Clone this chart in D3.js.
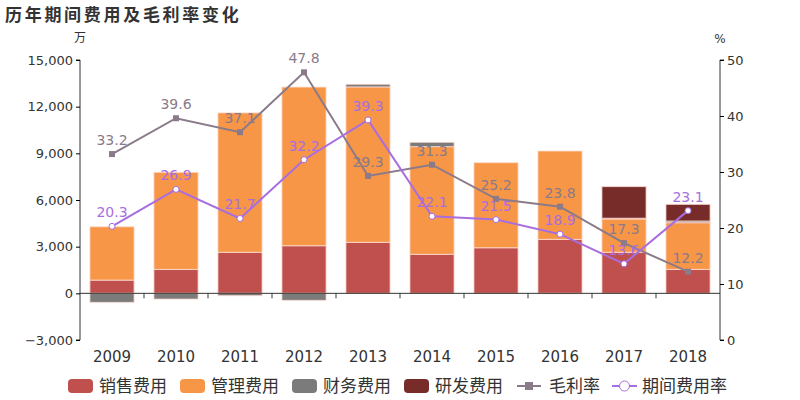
<!DOCTYPE html>
<html>
<head>
<meta charset="utf-8">
<script src="https://cdn.jsdelivr.net/npm/d3@7"></script>
<style>
body { margin:0; background:#fff; }
text { font-family: "DejaVu Sans", "Noto Sans CJK SC", sans-serif; }
</style>
</head>
<body>
<svg id="chart"></svg>
<script>
var screen = {width:800, height:400}
var margins = {top:60, right:80, bottom:60, left:80}

var years = ["2009","2010","2011","2012","2013","2014","2015","2016","2017","2018"]
var sales   = [850, 1540, 2640, 3060, 3280, 2510, 2930, 3470, 2640, 1540]
var admin   = [3430, 6240, 8960, 10200, 9990, 6920, 5470, 5680, 2140, 3000]
var finance = [-580, -370, -150, -450, 170, 280, 0, -30, 50, 110]
var rnd     = [0, 0, 0, 0, 0, 0, 0, 0, 2030, 1070]
var grossMargin = [33.2, 39.6, 37.1, 47.8, 29.3, 31.3, 25.2, 23.8, 17.3, 12.2]
var expenseRate = [20.3, 26.9, 21.7, 32.2, 39.3, 22.1, 21.5, 18.9, 13.6, 23.1]
var leftTicks = [-3000, 0, 3000, 6000, 9000, 12000, 15000]
var rightTicks = [0, 10, 20, 30, 40, 50]

var seriesNames = ["销售费用","管理费用","财务费用","研发费用"]
var seriesColors = ["#c0504d","#f79646","#7b7b7b","#772c2a"]

var width = screen.width - margins.left - margins.right
var height = screen.height - margins.top - margins.bottom

var svg = d3.select("#chart")
    .attr("width", screen.width)
    .attr("height", screen.height)

svg.append("text")
    .attr("x", 5).attr("y", 21)
    .attr("font-size", 17).attr("font-weight", "bold")
    .attr("letter-spacing", 2.7)
    .attr("fill", "#333")
    .text("历年期间费用及毛利率变化")

var g = svg.append("g")
    .attr("transform", "translate(" + margins.left + "," + margins.top + ")")

var xScale = d3.scaleBand().domain(years).range([0, width]).paddingInner(0.31).paddingOuter(0.155)
var xBand = d3.scaleBand().domain(years).range([0, width])
var yScale = d3.scaleLinear().domain([-3000, 15000]).range([height, 0])
var pScale = d3.scaleLinear().domain([0, 50]).range([height, 0])

// stacked bars, positives up from 0 and negatives down from 0
var arrays = [sales, admin, finance, rnd]
years.forEach(function(yr, i) {
    var pos = 0, neg = 0
    arrays.forEach(function(arr, s) {
        var v = arr[i]
        if (!v) return
        var y0, y1
        if (v >= 0) { y0 = pos; y1 = pos + v; pos = y1 }
        else { y0 = neg; y1 = neg + v; neg = y1 }
        g.append("rect")
            .attr("x", xScale(yr))
            .attr("width", xScale.bandwidth())
            .attr("y", yScale(Math.max(y0, y1)))
            .attr("height", Math.abs(yScale(y0) - yScale(y1)))
            .attr("fill", seriesColors[s])
            .attr("stroke", "rgba(255,220,210,0.8)")
            .attr("stroke-width", 1)
    })
})

// axes
var yAxis = d3.axisLeft(yScale).tickValues(leftTicks).tickSize(4).tickFormat(d3.format(","))
var yAxisG = g.append("g").call(yAxis)
yAxisG.select(".domain").attr("d", "M-4," + height + "H0V0H-4").attr("stroke", "#333")
yAxisG.selectAll("text").attr("font-size", 13).attr("fill", "#333")

var rAxis = d3.axisRight(pScale).tickValues(rightTicks).tickSize(4)
var rAxisG = g.append("g").attr("transform", "translate(" + width + ",0)").call(rAxis)
rAxisG.select(".domain").attr("d", "M4," + height + "H0V0H4").attr("stroke", "#333")
rAxisG.selectAll("text").attr("font-size", 13).attr("fill", "#333")

var xAxisG = g.append("g").attr("transform", "translate(0," + yScale(0) + ")")
xAxisG.append("line").attr("x1", 0).attr("x2", width).attr("stroke", "#333")
xAxisG.selectAll(".tk").data(years.slice(1)).enter().append("line")
    .attr("x1", function(d){ return xBand(d) }).attr("x2", function(d){ return xBand(d) })
    .attr("y1", 0).attr("y2", 5).attr("stroke", "#333")
g.selectAll(".xl").data(years).enter().append("text")
    .attr("x", function(d){ return xBand(d) + xBand.bandwidth()/2 })
    .attr("y", height + 22)
    .attr("text-anchor", "middle").attr("font-size", 15).attr("fill", "#333")
    .text(function(d){ return d })

svg.append("text").attr("x", margins.left).attr("y", 42)
    .attr("text-anchor", "middle").attr("font-size", 12).attr("fill", "#333").text("万")
svg.append("text").attr("x", margins.left + width).attr("y", 43)
    .attr("text-anchor", "middle").attr("font-size", 12).attr("fill", "#333").text("%")

// lines
var cx = function(d, i){ return xBand(years[i]) + xBand.bandwidth()/2 }
var lineGenerator = d3.line().x(cx).y(function(d){ return pScale(d) })

var lineDefs = [
    {data: grossMargin, color: "#8a7a8a", marker: "square"},
    {data: expenseRate, color: "#a86ee0", marker: "circle"}
]
lineDefs.forEach(function(L) {
    g.append("path").attr("d", lineGenerator(L.data))
        .attr("fill", "none").attr("stroke", L.color).attr("stroke-width", 2)
    if (L.marker == "square") {
        g.selectAll(null).data(L.data).enter().append("rect")
            .attr("x", function(d,i){ return cx(d,i) - 3 })
            .attr("y", function(d){ return pScale(d) - 3 })
            .attr("width", 6).attr("height", 6).attr("fill", L.color)
    } else {
        g.selectAll(null).data(L.data).enter().append("circle")
            .attr("cx", cx).attr("cy", function(d){ return pScale(d) })
            .attr("r", 3).attr("fill", "#fff").attr("stroke", L.color).attr("stroke-width", 1)
    }
    g.selectAll(null).data(L.data).enter().append("text")
        .attr("x", cx).attr("y", function(d){ return pScale(d) - 9 })
        .attr("text-anchor", "middle").attr("font-size", 14).attr("fill", L.color)
        .text(function(d){ return d.toFixed(1) })
})

// legend
var legend = svg.append("g").attr("transform", "translate(0,386)")
var legX = [68, 180, 292, 404]
seriesNames.forEach(function(name, i) {
    legend.append("rect").attr("x", legX[i]).attr("y", -7).attr("width", 25).attr("height", 14)
        .attr("rx", 4).attr("fill", seriesColors[i])
    legend.append("text").attr("x", legX[i] + 31).attr("y", 6)
        .attr("font-size", 17).attr("fill", "#333").text(name)
})
legend.append("line").attr("x1", 517).attr("x2", 541).attr("stroke", "#8a7a8a").attr("stroke-width", 2)
legend.append("rect").attr("x", 525).attr("y", -4).attr("width", 8).attr("height", 8).attr("fill", "#8a7a8a")
legend.append("text").attr("x", 549).attr("y", 6).attr("font-size", 17).attr("fill", "#333").text("毛利率")
legend.append("line").attr("x1", 612).attr("x2", 637).attr("stroke", "#a86ee0").attr("stroke-width", 2)
legend.append("circle").attr("cx", 624.5).attr("cy", 0).attr("r", 5).attr("fill", "#fff").attr("stroke", "#a86ee0")
legend.append("text").attr("x", 642).attr("y", 6).attr("font-size", 17).attr("fill", "#333").text("期间费用率")
</script>
</body>
</html>
